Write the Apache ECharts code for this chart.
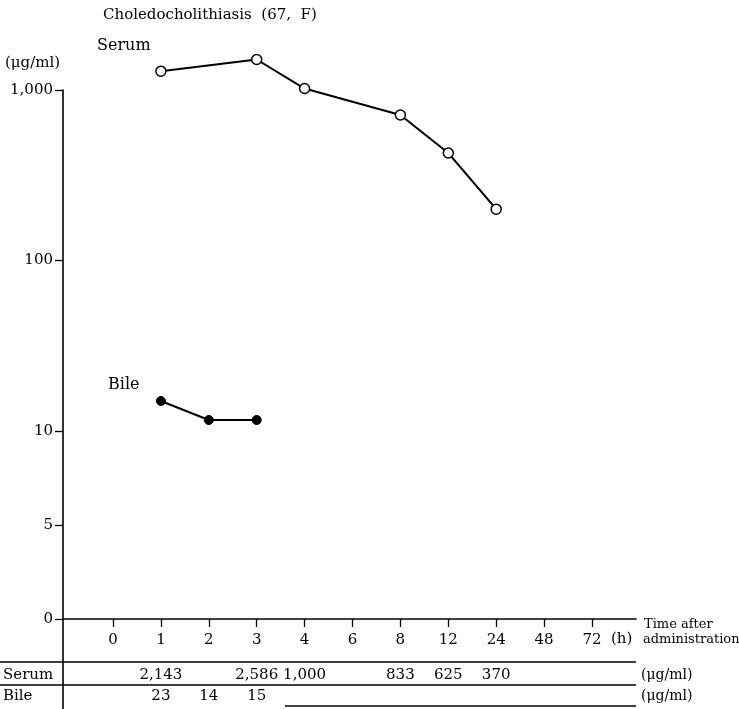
<!DOCTYPE html>
<html><head><meta charset="utf-8">
<script src="https://cdn.jsdelivr.net/npm/echarts@6/dist/echarts.min.js"></script>
<style>html,body{margin:0;padding:0;background:#fff}#c{width:739px;height:709px}</style>
</head><body><div id="c"></div>
<script>
// ---- data ----
const timeLabels = ['0','1','2','3','4','6','8','12','24','48','72'];
const serumPlotted = [null,1290,null,1510,1020,null,713,427,200,null,null];
const bilePlotted = [null,15.0,11.6,11.6,null,null,null,null,null,null,null];
const serumTable = ['','2,143','','2,586','1,000','','833','625','370','',''];
const bileTable = ['','23','14','15','','','','','','',''];
const yTickValues = [0,5,10,100,1000];
const yTickLabels = ['0','5','10','100','1,000'];

// broken axis scale: linear from 0 to 10, logarithmic above 10
const LIN = 18.8, DEC = 170.5;
function yPos(v){ return v <= 10 ? v*LIN : 10*LIN + DEC*Math.log10(v/10); }

const FONT = 'DejaVu Serif';
const INK = '#000';
const txt = {color:INK, fontFamily:FONT, fontSize:15};
const toPts = arr => arr.map((v,i)=> v==null ? null : [i, yPos(v)]).filter(p=>p);
const nonEmpty = arr => arr.map((s,i)=> s ? i : -1).filter(i=>i>=0);
const idxAll = timeLabels.map((_,i)=>i);
const yTicks = yTickValues.map(yPos);
const XMIN = -1.044, XMAX = 10.919;

function tableAxis(arr, margin){
  return {type:'value', gridIndex:0, position:'bottom', min:XMIN, max:XMAX,
    axisLine:{show:false}, axisTick:{show:false}, splitLine:{show:false},
    axisLabel:{customValues:nonEmpty(arr), margin:margin, ...txt,
      formatter:v=>arr[Math.round(v)] || ''}};
}
const F = s => s + 'px "DejaVu Serif"';

const chart = echarts.init(document.getElementById('c'), null, {renderer:'canvas'});
chart.setOption({
  animation:false,
  backgroundColor:'#fff',
  grid:{left:63, right:103, top:90, bottom:90},
  xAxis:[
    {type:'value', min:XMIN, max:XMAX,
      axisLine:{onZero:false, lineStyle:{color:INK, width:1.6}},
      axisTick:{customValues:idxAll, length:8, lineStyle:{color:INK, width:1.3}},
      axisLabel:{customValues:idxAll, margin:14, ...txt, formatter:v=>timeLabels[Math.round(v)]},
      splitLine:{show:false}},
    tableAxis(serumTable, 49),
    tableAxis(bileTable, 70)
  ],
  yAxis:{type:'value', min:0, max:yPos(1000),
    axisLine:{show:true, onZero:false, lineStyle:{color:INK, width:1.6}},
    axisTick:{show:true, customValues:yTicks, length:8, lineStyle:{color:INK, width:1.3}},
    axisLabel:{customValues:yTicks, margin:10, ...txt,
      formatter:v=>{const i=yTicks.findIndex(t=>Math.abs(t-v)<0.5); return i>=0?yTickLabels[i]:'';}},
    splitLine:{show:false}},
  series:[
    {type:'line', name:'Serum', data:toPts(serumPlotted), clip:false,
      symbol:'circle', symbolSize:10,
      itemStyle:{color:'#fff', borderColor:INK, borderWidth:1.5},
      lineStyle:{color:INK, width:2}},
    {type:'line', name:'Bile', data:toPts(bilePlotted), clip:false,
      symbol:'circle', symbolSize:9,
      itemStyle:{color:INK, borderColor:INK, borderWidth:1},
      lineStyle:{color:INK, width:2}}
  ],
  graphic:[
    {type:'text', left:103, top:8, style:{text:'Choledocholithiasis  (67,  F)', fill:INK, font:F(15)}},
    {type:'text', left:97, top:38, style:{text:'Serum', fill:INK, font:F(16)}},
    {type:'text', left:5, top:56, style:{text:'(μg/ml)', fill:INK, font:F(15)}},
    {type:'text', left:108, top:377, style:{text:'Bile', fill:INK, font:F(16)}},
    {type:'text', left:611, top:632, style:{text:'(h)', fill:INK, font:F(15)}},
    {type:'text', left:644, top:618, style:{text:'Time after', fill:INK, font:F(13)}},
    {type:'text', left:643, top:633, style:{text:'administration', fill:INK, font:F(13)}},
    {type:'text', left:641, top:668, style:{text:'(μg/ml)', fill:INK, font:F(14)}},
    {type:'text', left:641, top:689, style:{text:'(μg/ml)', fill:INK, font:F(14)}},
    {type:'text', left:3, top:668, style:{text:'Serum', fill:INK, font:F(15)}},
    {type:'text', left:3, top:689, style:{text:'Bile', fill:INK, font:F(15)}},
    {type:'line', shape:{x1:0, y1:662, x2:636, y2:662}, style:{stroke:INK, lineWidth:1.3}},
    {type:'line', shape:{x1:0, y1:685, x2:636, y2:685}, style:{stroke:INK, lineWidth:1.3}},
    {type:'line', shape:{x1:285, y1:706, x2:636, y2:706}, style:{stroke:INK, lineWidth:1.3}},
    {type:'line', shape:{x1:63, y1:619, x2:63, y2:709}, style:{stroke:INK, lineWidth:1.6}}
  ]
});
</script></body></html>
